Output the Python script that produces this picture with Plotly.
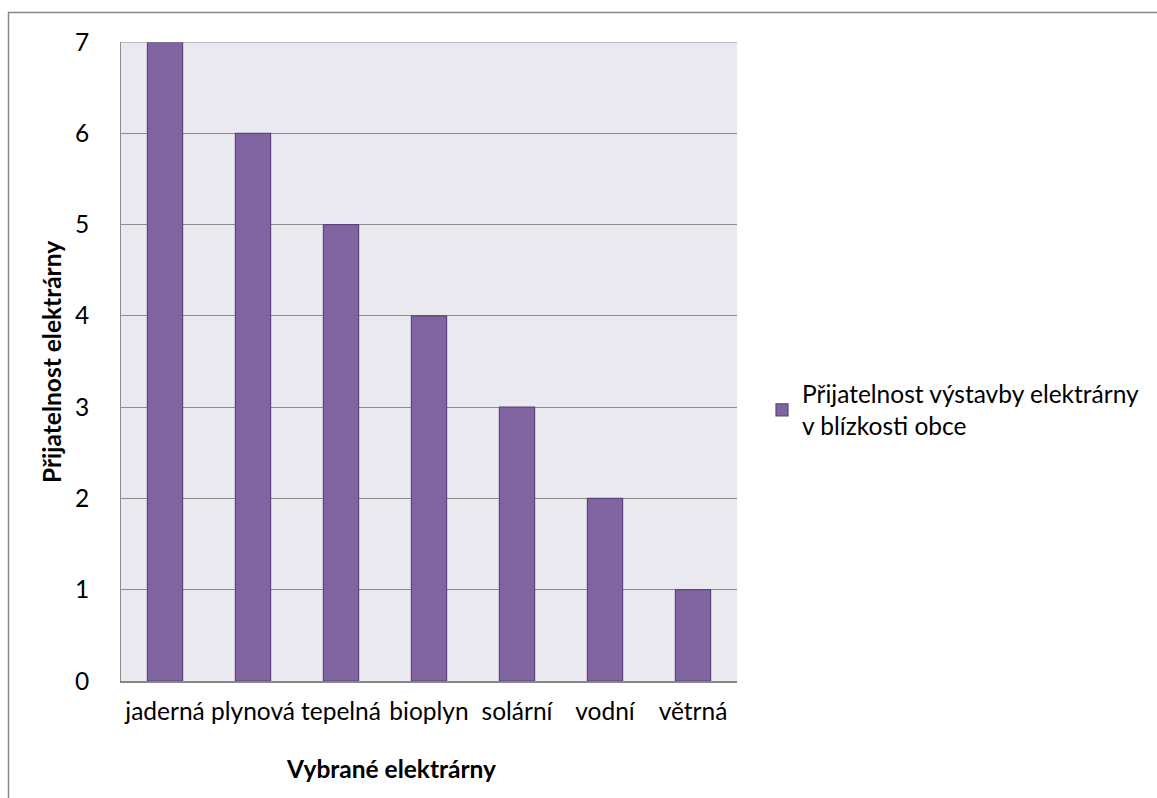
import plotly.graph_objects as go

# Data
categories = ["jaderná", "plynová", "tepelná", "bioplyn", "solární", "vodní", "větrná"]
values = [7, 6, 5, 4, 3, 2, 1]
series_name = "Přijatelnost výstavby elektrárny<br>v blízkosti obce"
y_ticks = [0, 1, 2, 3, 4, 5, 6, 7]

FONT = "Lato, 'Open Sans', sans-serif"
FS = 24.5
W, H = 1157, 798
L, R, T, B = 121, 420, 42, 117
pw, ph = W - L - R, H - T - B


def px_to_paper_x(px):
    return (px - L) / pw


def px_to_paper_y(py):
    return (H - B - py) / ph


fig = go.Figure()
fig.add_trace(go.Bar(
    x=categories,
    y=values,
    name=series_name,
    marker=dict(color="#8064A2", line=dict(color="#5C4677", width=1.2)),
    width=0.4,
))

fig.update_layout(
    width=W,
    height=H,
    margin=dict(l=L, r=R, t=T, b=B),
    paper_bgcolor="white",
    plot_bgcolor="#EBE9F0",
    font=dict(family=FONT, size=FS, color="black"),
    showlegend=True,
    legend=dict(
        x=px_to_paper_x(762), y=px_to_paper_y(410),
        xanchor="left", yanchor="middle",
        font=dict(family=FONT, size=FS, color="black"),
        bgcolor="rgba(0,0,0,0)",
        itemwidth=30,
        tracegroupgap=0,
    ),
    xaxis=dict(
        showgrid=False,
        showline=True,
        linecolor="#868686",
        linewidth=2,
        ticks="",
        tickangle=0,
        ticklabelstandoff=8,
        tickfont=dict(family=FONT, size=FS, color="black"),
        fixedrange=True,
    ),
    yaxis=dict(
        range=[0, 7],
        tickvals=y_ticks,
        showgrid=True,
        gridcolor="#8C8C8C",
        gridwidth=1,
        showline=True,
        linecolor="#8C8C8C",
        linewidth=1,
        zeroline=False,
        ticks="",
        ticklabelstandoff=26,
        tickfont=dict(family=FONT, size=FS, color="black"),
        fixedrange=True,
    ),
    annotations=[
        dict(text="<b>Vybrané elektrárny</b>", xref="paper", yref="paper",
             x=px_to_paper_x(391), y=px_to_paper_y(768), showarrow=False,
             xanchor="center", yanchor="middle",
             font=dict(family=FONT, size=FS, color="black")),
        dict(text="<b>Přijatelnost elektrárny</b>", xref="paper", yref="paper",
             x=px_to_paper_x(51), y=px_to_paper_y(362), showarrow=False,
             textangle=-90, xanchor="center", yanchor="middle",
             font=dict(family=FONT, size=FS, color="black")),
    ],
    shapes=[
        dict(type="rect", xref="paper", yref="paper",
             x0=px_to_paper_x(8.5), y0=px_to_paper_y(810),
             x1=px_to_paper_x(1170), y1=px_to_paper_y(12.5),
             line=dict(color="#868686", width=1.5), layer="below"),
        # top gridline at 7 drawn over the bars
        dict(type="line", xref="paper", yref="y", x0=0, x1=1, y0=7, y1=7,
             line=dict(color="#8C8C8C", width=1)),
    ],
)

fig.write_html("out.html")
